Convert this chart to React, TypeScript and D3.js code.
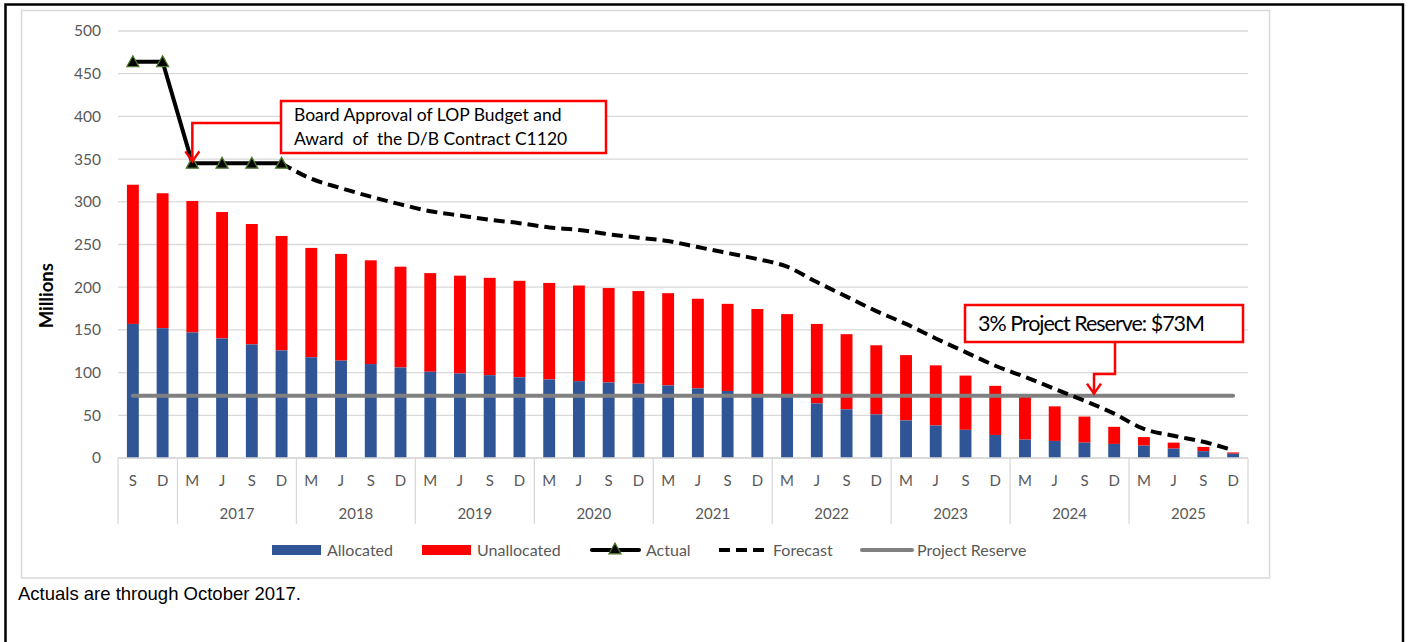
import * as d3 from "d3";

const W = 1408;
const H = 642;

const months = ["S", "D", ...Array.from({ length: 9 }, () => ["M", "J", "S", "D"]).flat()];
const years = ["2017", "2018", "2019", "2020", "2021", "2022", "2023", "2024", "2025"];

const allocated = [
  157, 152, 147, 140, 133, 126, 118, 114, 110, 106, 101, 99, 97, 94.5, 92, 90, 88.5, 87, 85,
  81.5, 78.5, 74, 72, 64, 57, 51, 44, 38, 33, 27, 21.5, 20, 18, 16.5, 14.5, 11, 8, 5,
];
const total = [
  320, 310, 301, 288, 274, 260, 246, 239, 231.5, 224, 216.5, 213.5, 211, 207.5, 205, 202, 199,
  195.5, 193, 186.5, 180.5, 174.5, 168.5, 157, 145, 132, 120.5, 108.5, 96.5, 84.5, 72, 60.5, 48.5,
  36.5, 24.5, 18, 13, 6.5,
];
const actual: (number | null)[] = [464, 464, 345, 345, 345, 345];
const forecast: (number | null)[] = [
  null, null, null, null, null, 345, 327, 316, 306, 297, 289, 284, 279, 275, 270, 267, 262, 258,
  254, 247, 240, 233, 224, 206, 189, 172, 157, 140, 124, 108, 95, 81, 67, 52, 34, 26, 19, 9,
];
const reserve = 73;
const yTicks = [0, 50, 100, 150, 200, 250, 300, 350, 400, 450, 500];

const BLUE = "#2F5597";
const RED = "#FF0000";
const GRAY_TXT = "#595959";
const GRID = "#D9D9D9";
const FONT = "Lato, 'Open Sans', sans-serif";

export default function App() {
  const idx = months.map((_, i) => i);
  const x = d3
    .scaleBand<number>()
    .domain(idx)
    .range([118, 1248])
    .paddingInner(0.6)
    .paddingOuter(0.3);
  const y = d3.scaleLinear().domain([0, 500]).range([458, 31]);
  const cx = (i: number) => (x(i) ?? 0) + x.bandwidth() / 2;
  const step = x.step();
  const left = 118;

  const actualLine = d3
    .line<number | null>()
    .defined((d) => d != null)
    .x((_, i) => cx(i))
    .y((d) => y(d as number));
  const forecastLine = d3
    .line<number | null>()
    .defined((d) => d != null)
    .x((_, i) => cx(i))
    .y((d) => y(d as number))
    .curve(d3.curveMonotoneX);

  // group boundaries for the multi-level axis
  const seps = [left, left + 2 * step, ...years.map((_, k) => left + (2 + 4 * (k + 1)) * step)];

  const tri = (px: number, py: number, s = 6) =>
    `M${px},${py - s}L${px + s},${py + s * 0.8}L${px - s},${py + s * 0.8}Z`;

  const arrowHead = (px: number, py: number) => `M${px - 7},${py - 10}L${px},${py}L${px + 7},${py - 10}`;

  return (
    <svg
      width={W}
      height={H}
      style={{ position: "absolute", left: 0, top: 0, background: "#fff" }}
      fontFamily={FONT}
    >
      <rect x={5.5} y={4.5} width={1397.5} height={H + 10} fill="none" stroke="#000" strokeWidth={2.5} />
      <rect x={21.5} y={10.5} width={1248} height={567.5} fill="#fff" stroke={GRID} strokeWidth={1.5} />

      {/* gridlines + y labels */}
      {yTicks.map((t) => (
        <g key={t}>
          <line x1={left} x2={1248} y1={y(t)} y2={y(t)} stroke={GRID} strokeWidth={1.3} />
          <text x={101} y={y(t)} dy="0.35em" textAnchor="end" fontSize={15.5} fill={GRAY_TXT}>
            {t}
          </text>
        </g>
      ))}
      <text
        transform={`translate(53,${y(190)}) rotate(-90)`}
        textAnchor="middle"
        fontSize={18.5}
        fontWeight="bold"
        fill="#000"
      >
        Millions
      </text>

      {/* bars */}
      {idx.map((i) => (
        <g key={i}>
          <rect x={x(i)} y={y(total[i])} width={x.bandwidth()} height={y(allocated[i]) - y(total[i])} fill={RED} />
          <rect x={x(i)} y={y(allocated[i])} width={x.bandwidth()} height={y(0) - y(allocated[i])} fill={BLUE} />
        </g>
      ))}

      {/* reserve */}
      <line
        x1={cx(0)}
        x2={cx(months.length - 1)}
        y1={y(reserve)}
        y2={y(reserve)}
        stroke="#808080"
        strokeWidth={4}
        strokeLinecap="round"
      />

      {/* forecast */}
      <path d={forecastLine(forecast) ?? ""} fill="none" stroke="#000" strokeWidth={4} strokeDasharray="11 6" />

      {/* actual */}
      <path d={actualLine(actual) ?? ""} fill="none" stroke="#000" strokeWidth={4} strokeLinejoin="round" />
      {actual.map((v, i) =>
        v == null ? null : (
          <path key={i} d={tri(cx(i), y(v))} fill="#000" stroke="#4E7A2E" strokeWidth={1.3} />
        )
      )}

      {/* x axis */}
      <line x1={left} x2={1248} y1={458} y2={458} stroke={GRID} strokeWidth={1.3} />
      {seps.map((sx, k) => (
        <line key={k} x1={sx} x2={sx} y1={458} y2={524} stroke={GRID} strokeWidth={1.3} />
      ))}
      {months.map((m, i) => (
        <text key={i} x={cx(i)} y={481} dy="0.35em" textAnchor="middle" fontSize={15} fill={GRAY_TXT}>
          {m}
        </text>
      ))}
      {years.map((yr, k) => (
        <text
          key={yr}
          x={left + (2 + 4 * k + 2) * step}
          y={514}
          dy="0.35em"
          textAnchor="middle"
          fontSize={15}
          fill={GRAY_TXT}
        >
          {yr}
        </text>
      ))}

      {/* annotation 1 */}
      <rect x={281} y={101} width={325} height={52} fill="#fff" stroke={RED} strokeWidth={2.5} />
      <text x={294} y={121} fontSize={17.5} fill="#000">
        Board Approval of LOP Budget and
      </text>
      <text x={294} y={145} fontSize={17.5} fill="#000" xmlSpace="preserve">
        Award  of  the D/B Contract C1120
      </text>
      <path d={`M281,123H${cx(2)}V${y(345) - 2}`} fill="none" stroke={RED} strokeWidth={2.5} />
      <path d={arrowHead(cx(2), y(345) - 2)} fill="none" stroke={RED} strokeWidth={2.5} />

      {/* annotation 2 */}
      <rect x={965} y={305} width={278} height={37} fill="#fff" stroke={RED} strokeWidth={2.5} />
      <text x={978} y={331} fontSize={21.5} fill="#000" textLength={227} lengthAdjust="spacing">
        3% Project Reserve: $73M
      </text>
      <path d={`M1115,342V374H1094V${y(reserve) - 2}`} fill="none" stroke={RED} strokeWidth={2.5} />
      <path d={arrowHead(1094, y(reserve) - 2)} fill="none" stroke={RED} strokeWidth={2.5} />

      {/* legend */}
      <g fontSize={16} fill={GRAY_TXT}>
        <rect x={272} y={545} width={49} height={10} fill={BLUE} />
        <text x={327} y={550} dy="0.35em">Allocated</text>
        <rect x={422} y={545} width={49} height={10} fill={RED} />
        <text x={477} y={550} dy="0.35em">Unallocated</text>
        <line x1={592} x2={639} y1={550} y2={550} stroke="#000" strokeWidth={4} strokeLinecap="round" />
        <path d={tri(615, 549)} fill="#000" stroke="#4E7A2E" strokeWidth={1.3} />
        <text x={646} y={550} dy="0.35em">Actual</text>
        <line x1={719} x2={765} y1={550} y2={550} stroke="#000" strokeWidth={4} strokeDasharray="11 6" />
        <text x={773} y={550} dy="0.35em">Forecast</text>
        <line x1={862} x2={912} y1={550} y2={550} stroke="#808080" strokeWidth={4} strokeLinecap="round" />
        <text x={917} y={550} dy="0.35em">Project Reserve</text>
      </g>

      <text x={18} y={600} fontSize={18.5} fontFamily="'Liberation Sans', Arial, sans-serif" fill="#000">
        Actuals are through October 2017.
      </text>
    </svg>
  );
}
